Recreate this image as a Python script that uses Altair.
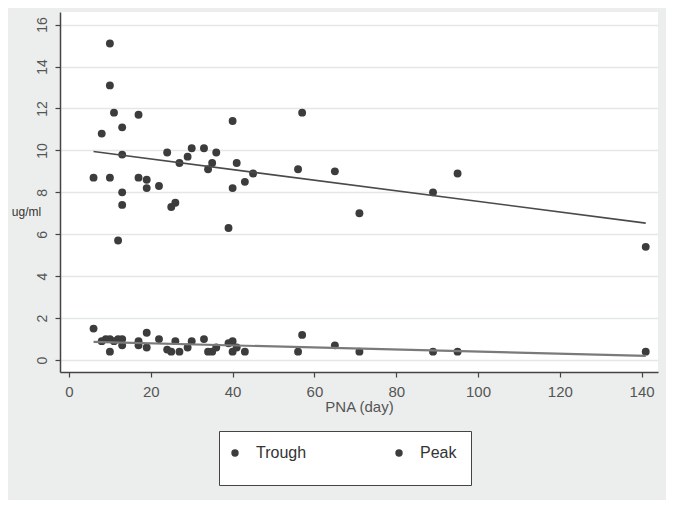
import altair as alt
import pandas as pd

# ---- data ----
series_names = ["Trough", "Peak"]

trough_pna = [6, 8, 9, 10, 10, 11, 12, 13, 13, 17, 17, 19, 19, 22, 24, 25, 26, 27,
              29, 30, 33, 34, 35, 36, 39, 40, 40, 41, 43, 56, 57, 65, 71, 89, 95, 141]
trough_ug = [1.5, 0.9, 1.0, 1.0, 0.4, 0.9, 1.0, 1.0, 0.7, 0.9, 0.7, 1.3, 0.6, 1.0, 0.5, 0.4, 0.9, 0.4,
             0.6, 0.9, 1.0, 0.4, 0.4, 0.6, 0.8, 0.9, 0.4, 0.6, 0.4, 0.4, 1.2, 0.7, 0.4, 0.4, 0.4, 0.4]

peak_pna = [6, 8, 10, 10, 10, 11, 12, 13, 13, 13, 13, 17, 17, 19, 19, 22, 24, 25, 26, 27,
            29, 30, 33, 34, 35, 36, 39, 40, 40, 41, 43, 45, 56, 57, 65, 71, 89, 95, 141]
peak_ug = [8.7, 10.8, 15.1, 13.1, 8.7, 11.8, 5.7, 11.1, 9.8, 8.0, 7.4, 11.7, 8.7, 8.6, 8.2, 8.3, 9.9, 7.3, 7.5, 9.4,
           9.7, 10.1, 10.1, 9.1, 9.4, 9.9, 6.3, 11.4, 8.2, 9.4, 8.5, 8.9, 9.1, 11.8, 9.0, 7.0, 8.0, 8.9, 5.4]

x_ticks = [0, 20, 40, 60, 80, 100, 120, 140]
y_ticks = [0, 2, 4, 6, 8, 10, 12, 14, 16]

df = pd.concat([
    pd.DataFrame({"PNA": trough_pna, "ug": trough_ug, "Series": "Trough"}),
    pd.DataFrame({"PNA": peak_pna, "ug": peak_ug, "Series": "Peak"}),
], ignore_index=True)

FONT = "Liberation Sans"
AX = "#444444"
NBSP = "\u00a0"

x_enc = alt.X(
    "PNA:Q",
    scale=alt.Scale(domain=[-2.2, 144], nice=False, zero=False),
    axis=alt.Axis(values=x_ticks, title="PNA (day)", grid=False,
                  domainColor=AX, domainWidth=1.5, tickColor=AX, tickWidth=1.2, tickSize=5,
                  labelFont=FONT, labelFontSize=15, labelColor="#555555", labelPadding=7,
                  titleFont=FONT, titleFontSize=15, titleFontWeight="normal", titleColor="#555555",
                  titlePadding=0),
)
y_enc = alt.Y(
    "ug:Q",
    scale=alt.Scale(domain=[-0.57, 16.6], nice=False, zero=False),
    axis=alt.Axis(values=y_ticks, title="ug/ml", titleAngle=0, titleX=-34, titleY=199,
                  titleAlign="center", titleBaseline="middle",
                  titleFont=FONT, titleFontSize=12, titleFontWeight="normal", titleColor="#333333",
                  labelAngle=270, labelAlign="center", labelBaseline="bottom", labelPadding=6,
                  labelFont=FONT, labelFontSize=14, labelColor="#555555",
                  grid=True, gridColor="#e4e7e6", gridWidth=1.5,
                  domainColor=AX, domainWidth=1.5, tickColor=AX, tickWidth=1.2, tickSize=5),
)

points = alt.Chart(df).mark_circle(size=62, opacity=1).encode(
    x=x_enc,
    y=y_enc,
    color=alt.Color(
        "Series:N",
        scale=alt.Scale(domain=series_names, range=["#3c3c3c", "#3c3c3c"]),
        legend=alt.Legend(
            title=" ", titleOrient="bottom", titleFontSize=8, titlePadding=2,
            orient="none", legendX=159, legendY=419,
            direction="horizontal", columns=2, columnPadding=88,
            padding=14, strokeColor="#444444", fillColor="white",
            labelFont=FONT, labelFontSize=16, labelColor="#333333", labelOffset=13,
            labelExpr="datum.label === 'Peak' ? 'Peak" + NBSP * 6 + "' : datum.label",
            symbolType="circle", symbolSize=55, symbolStrokeWidth=0, symbolOffset=-6,
        ),
    ),
)

line_styles = {"Peak": ("#4a4a4a", 1.6), "Trough": ("#7a7a7a", 2.2)}
lines = [
    alt.Chart(df).transform_filter(alt.datum.Series == s)
    .transform_regression("PNA", "ug")
    .mark_line(color=line_styles[s][0], strokeWidth=line_styles[s][1])
    .encode(x=x_enc, y=y_enc)
    for s in series_names
]

chart = alt.layer(points, *lines).properties(
    width=598, height=360,
    autosize=alt.AutoSizeParams(type="none"),
    padding={"left": 52, "top": 4, "right": 8, "bottom": 128},
    background="#eceeed",
).configure_view(fill="white", strokeWidth=0)

chart.save("out.html", embed_options={"renderer": "svg", "actions": False})
